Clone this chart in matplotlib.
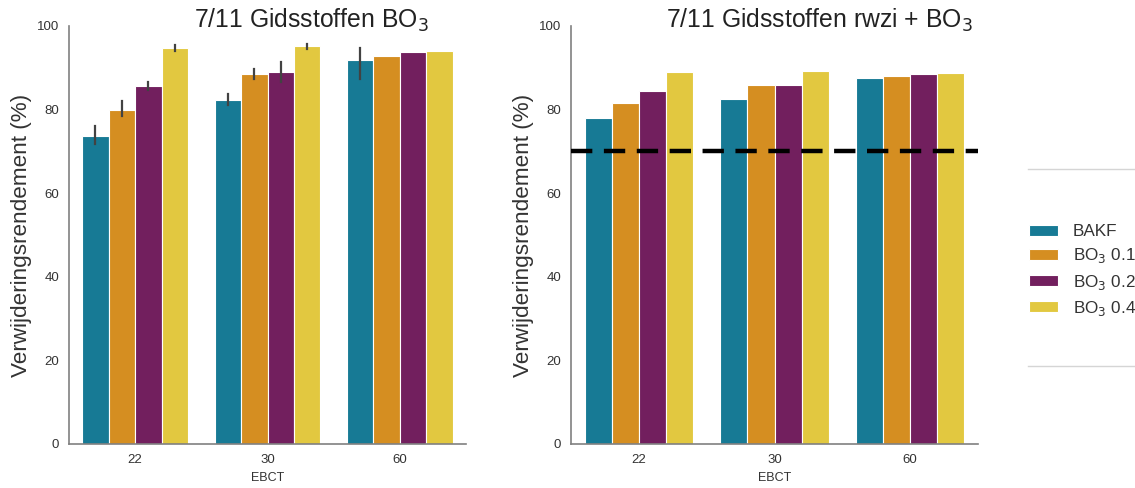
import numpy as np
import matplotlib
matplotlib.use("Agg")
import matplotlib.pyplot as plt
from matplotlib.lines import Line2D
from matplotlib.patches import Patch

plt.rcParams["font.family"] = ["Liberation Sans", "DejaVu Sans"]

EBCT = ["22", "30", "60"]
SERIES = ["BAKF", "BO$_3$ 0.1", "BO$_3$ 0.2", "BO$_3$ 0.4"]
COLORS = ["#177a95", "#d58e21", "#721f5e", "#e2c840"]

# left panel: mean removal per EBCT, plus CI bounds (nan = no bar drawn)
bo3_mean = [
    [73.8, 82.2, 91.9],
    [80.0, 88.5, 92.9],
    [85.6, 89.0, 93.8],
    [94.7, 95.1, 94.1],
]
bo3_lo = [
    [71.8, 81.1, 87.4],
    [78.4, 87.4, np.nan],
    [84.7, 86.6, np.nan],
    [93.9, 94.5, np.nan],
]
bo3_hi = [
    [76.1, 83.7, 94.8],
    [82.1, 89.7, np.nan],
    [86.7, 91.5, np.nan],
    [95.5, 95.8, np.nan],
]

# right panel: rwzi + BO3
rwzi_mean = [
    [78.1, 82.6, 87.6],
    [81.5, 85.8, 88.1],
    [84.4, 86.0, 88.5],
    [88.9, 89.2, 88.8],
]
TARGET = 70

TEXT = "#333333"
SPINE = "0.5"


def draw_bars(ax, means, lo=None, hi=None):
    x = np.arange(len(EBCT))
    w = 0.2
    for i, vals in enumerate(means):
        xs = x - 0.3 + i * w
        ax.bar(xs, vals, width=w, color=COLORS[i], edgecolor="white",
               linewidth=0.8, zorder=2)
        if lo is not None:
            for xx, a, b in zip(xs, lo[i], hi[i]):
                if np.isnan(a):
                    continue
                ax.plot([xx, xx], [a, b], color="#424242", lw=1.6, zorder=3)
    ax.set_xticks(x)
    ax.set_xticklabels(EBCT)
    ax.set_xlim(-0.5, len(EBCT) - 0.5)
    ax.set_ylim(0, 100)
    ax.set_yticks([0, 20, 40, 60, 80, 100])
    ax.tick_params(length=0, labelsize=9.5, colors=TEXT, pad=7)
    for s in ["top", "right"]:
        ax.spines[s].set_visible(False)
    for s in ["left", "bottom"]:
        ax.spines[s].set_color(SPINE)
        ax.spines[s].set_linewidth(1.2)
    ax.set_xlabel("EBCT", fontsize=9, color=TEXT, labelpad=4.5)
    ax.set_ylabel("Verwijderingsrendement (%)", fontsize=16.2, color=TEXT, labelpad=3.5)


fig = plt.figure(figsize=(11.35, 4.88), dpi=100)
ax1 = fig.add_axes([69 / 1135, 44 / 488, 397 / 1135, 418 / 488])
ax2 = fig.add_axes([571 / 1135, 44 / 488, 407 / 1135, 418 / 488])

# y fixed so the title is not pushed above the "100" tick label
draw_bars(ax1, bo3_mean, bo3_lo, bo3_hi)
ax1.set_title("7/11 Gidsstoffen BO$_3$", fontsize=17.8, color="#222222",
              x=0.61, y=1.0, pad=-1)

draw_bars(ax2, rwzi_mean)
ax2.axhline(TARGET, color="black", lw=3.2, dashes=(4.8, 2.6), zorder=4)
ax2.set_title("7/11 Gidsstoffen rwzi + BO$_3$", fontsize=17.8, color="#222222",
              x=0.61, y=1.0, pad=-1)

handles = [Patch(facecolor=c, edgecolor="white", linewidth=0.8) for c in COLORS]
fig.legend(handles, SERIES, loc="center left", bbox_to_anchor=(1029 / 1135, 1 - 271 / 488),
           frameon=False, fontsize=12.3, handlelength=1.7, handleheight=0.6,
           handletextpad=0.85, labelspacing=0.42, labelcolor=TEXT,
           borderpad=0, borderaxespad=0)
for yy in [169, 366]:
    fig.add_artist(Line2D([1028 / 1135, 1.0], [1 - yy / 488] * 2,
                          color="#d5d5d5", lw=1.0, transform=fig.transFigure))

fig.savefig("out.png", dpi=100)
